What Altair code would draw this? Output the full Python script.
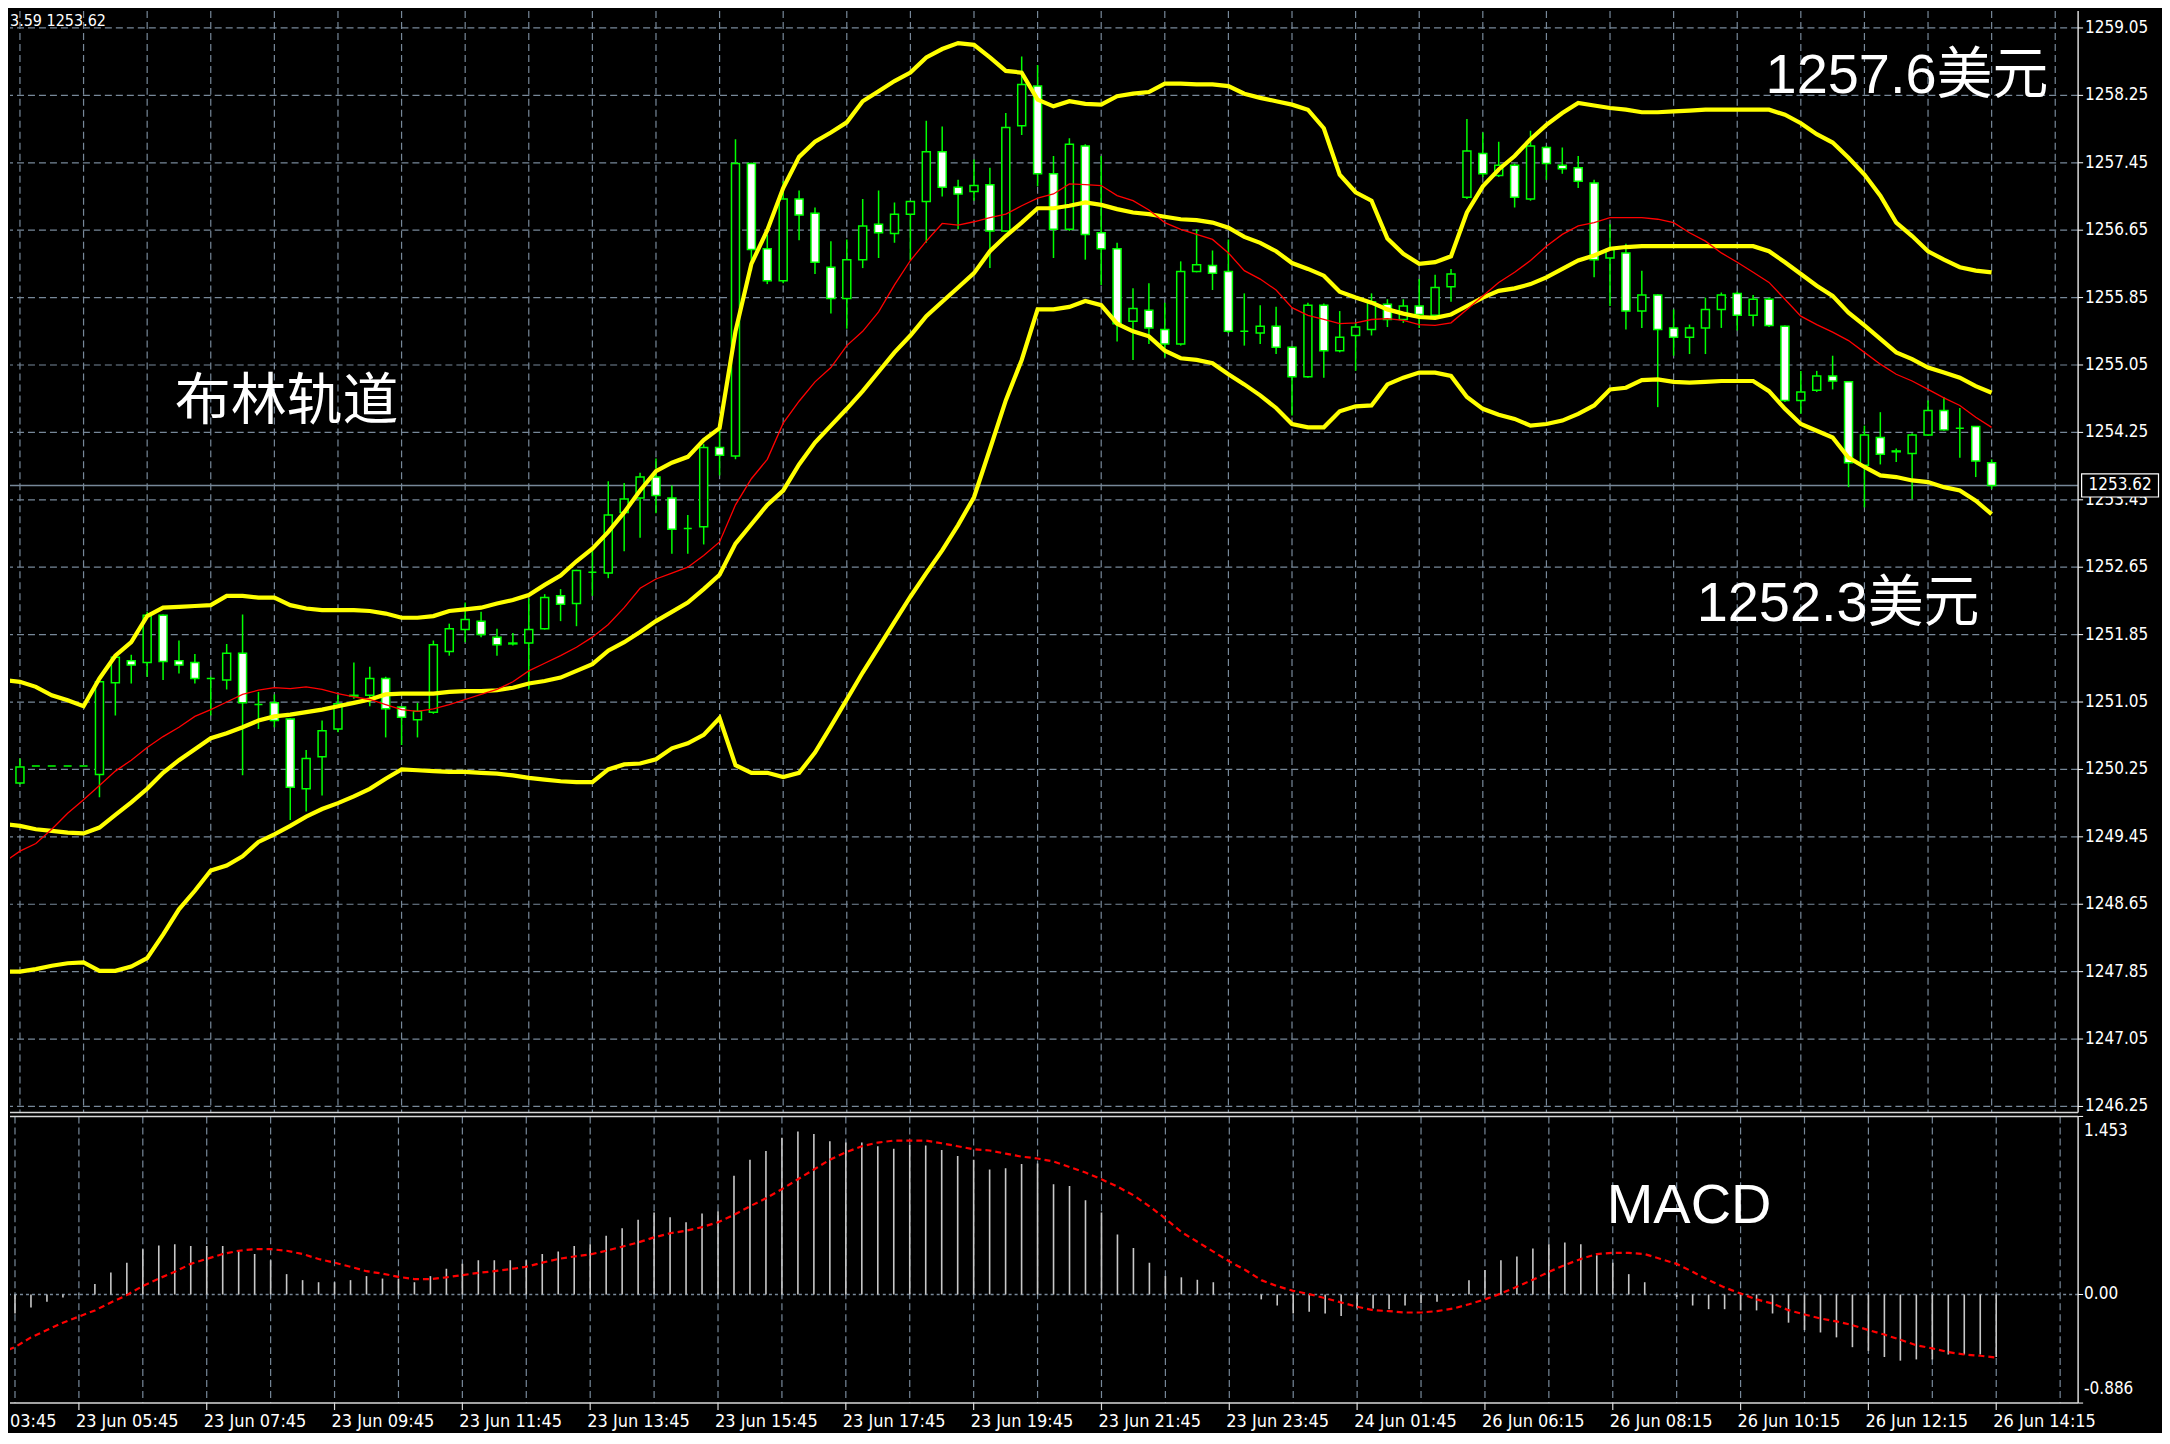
import altair as alt
import pandas as pd

# ---------------- data (bar index -1 .. 124, M15 bars) ----------------
BARS = list(range(-1, 125))

OPEN = [1249.85,
 1250.09, 1250.29, 1250.29, 1250.29, 1250.29,
 1250.19, 1251.28, 1251.54, 1251.52, 1252.08,
 1251.54, 1251.52, 1251.33, 1251.31, 1251.63,
 1251.02, 1251.04, 1250.85, 1250.02, 1250.40,
 1250.73, 1251.12, 1251.13, 1251.33, 1250.99,
 1250.84, 1250.93, 1251.65, 1251.91, 1252.01,
 1251.82, 1251.74, 1251.75, 1251.92, 1252.31,
 1252.22, 1252.59, 1252.58, 1253.30, 1253.47,
 1253.72, 1253.47, 1253.11, 1253.13, 1254.07,
 1253.97, 1257.44, 1256.43, 1256.05, 1257.02,
 1256.85, 1256.21, 1255.84, 1256.30, 1256.72,
 1256.61, 1256.84, 1256.99, 1257.58, 1257.16,
 1257.11, 1257.19, 1256.64, 1257.89, 1258.36,
 1257.32, 1256.66, 1257.65, 1256.62, 1256.43,
 1255.57, 1255.70, 1255.47, 1255.30, 1256.16,
 1256.23, 1256.16, 1255.45, 1255.43, 1255.51,
 1255.26, 1254.91, 1255.76, 1255.22, 1255.40,
 1255.47, 1255.77, 1255.59, 1255.75, 1255.64,
 1255.98, 1257.04, 1257.56, 1257.30, 1257.42,
 1257.02, 1257.63, 1257.42, 1257.39, 1257.21,
 1256.32, 1256.38, 1255.69, 1255.88, 1255.49,
 1255.38, 1255.49, 1255.71, 1255.90, 1255.64,
 1255.83, 1255.51, 1254.63, 1254.75, 1254.92,
 1254.85, 1253.86, 1254.19, 1254.02, 1254.00,
 1254.22, 1254.51, 1254.30, 1254.32, 1253.89]

HIGH = [1250.15,
 1250.38, 1250.29, 1250.29, 1250.29, 1250.29,
 1251.29, 1251.59, 1251.61, 1252.12, 1252.09,
 1251.78, 1251.62, 1251.35, 1251.74, 1252.09,
 1251.17, 1251.14, 1250.86, 1250.48, 1250.83,
 1251.13, 1251.52, 1251.47, 1251.35, 1251.00,
 1251.04, 1251.78, 1251.98, 1252.23, 1252.12,
 1251.92, 1251.87, 1252.28, 1252.33, 1252.39,
 1252.62, 1252.85, 1253.67, 1253.65, 1253.77,
 1253.94, 1253.62, 1253.27, 1254.11, 1254.28,
 1257.73, 1257.45, 1256.60, 1257.23, 1257.12,
 1256.92, 1256.52, 1256.54, 1257.02, 1257.12,
 1256.98, 1257.00, 1257.95, 1257.88, 1257.25,
 1257.49, 1257.39, 1258.04, 1258.71, 1258.61,
 1257.53, 1257.74, 1257.67, 1257.53, 1256.50,
 1255.96, 1256.02, 1255.79, 1256.28, 1256.66,
 1256.41, 1256.54, 1255.90, 1255.76, 1255.74,
 1255.27, 1255.79, 1255.78, 1255.69, 1255.55,
 1255.90, 1255.83, 1255.83, 1256.07, 1256.12,
 1256.19, 1257.97, 1257.81, 1257.70, 1257.44,
 1257.83, 1257.65, 1257.63, 1257.53, 1257.25,
 1256.72, 1256.49, 1256.17, 1255.89, 1255.71,
 1255.53, 1255.85, 1255.91, 1255.92, 1255.88,
 1255.85, 1255.52, 1254.98, 1254.98, 1255.16,
 1254.86, 1254.33, 1254.49, 1254.06, 1254.24,
 1254.63, 1254.67, 1254.54, 1254.32, 1253.93]

LOW = [1249.75,
 1250.07, 1250.29, 1250.29, 1250.29, 1250.29,
 1249.92, 1250.89, 1251.27, 1251.35, 1251.31,
 1251.39, 1251.27, 1250.89, 1251.20, 1250.18,
 1250.73, 1250.75, 1249.65, 1249.75, 1249.94,
 1250.69, 1251.09, 1251.00, 1250.63, 1250.54,
 1250.63, 1250.91, 1251.60, 1251.76, 1251.82,
 1251.60, 1251.72, 1251.20, 1251.91, 1252.01,
 1251.95, 1252.31, 1252.52, 1252.84, 1253.00,
 1253.29, 1252.81, 1252.81, 1252.92, 1253.74,
 1253.93, 1256.17, 1256.01, 1256.02, 1256.53,
 1256.13, 1255.66, 1255.48, 1256.20, 1256.32,
 1256.50, 1256.29, 1256.50, 1257.05, 1256.66,
 1257.00, 1256.20, 1256.63, 1257.78, 1257.17,
 1256.32, 1256.64, 1256.30, 1256.00, 1255.33,
 1255.11, 1255.30, 1255.14, 1255.28, 1256.15,
 1255.94, 1255.43, 1255.28, 1255.30, 1255.18,
 1254.45, 1254.90, 1254.90, 1255.20, 1254.98,
 1255.40, 1255.50, 1255.55, 1255.49, 1255.62,
 1255.80, 1257.02, 1257.28, 1257.28, 1256.92,
 1257.00, 1257.25, 1257.32, 1257.15, 1256.09,
 1255.75, 1255.47, 1255.49, 1254.55, 1255.16,
 1255.18, 1255.18, 1255.49, 1255.46, 1255.51,
 1255.50, 1254.61, 1254.47, 1254.73, 1254.76,
 1253.60, 1253.36, 1253.87, 1253.90, 1253.46,
 1254.21, 1254.27, 1253.95, 1253.72, 1253.58]

CLOSE = [1250.10,
 1250.28, 1250.29, 1250.29, 1250.29, 1250.29,
 1251.29, 1251.58, 1251.49, 1252.08, 1251.53,
 1251.49, 1251.33, 1251.33, 1251.63, 1251.04,
 1251.02, 1250.83, 1250.04, 1250.38, 1250.71,
 1251.03, 1251.13, 1251.33, 1250.97, 1250.87,
 1250.94, 1251.73, 1251.92, 1252.03, 1251.85,
 1251.73, 1251.75, 1251.91, 1252.29, 1252.21,
 1252.61, 1252.59, 1253.27, 1253.46, 1253.72,
 1253.50, 1253.10, 1253.11, 1254.07, 1253.98,
 1257.44, 1256.42, 1256.05, 1257.02, 1256.83,
 1256.27, 1255.84, 1256.30, 1256.70, 1256.62,
 1256.84, 1256.99, 1257.58, 1257.16, 1257.08,
 1257.18, 1256.64, 1257.87, 1258.38, 1257.32,
 1256.66, 1257.67, 1256.60, 1256.43, 1255.54,
 1255.72, 1255.49, 1255.30, 1256.16, 1256.24,
 1256.14, 1255.45, 1255.45, 1255.51, 1255.26,
 1254.91, 1255.76, 1255.22, 1255.38, 1255.50,
 1255.80, 1255.59, 1255.75, 1255.65, 1255.97,
 1256.13, 1257.59, 1257.32, 1257.42, 1257.04,
 1257.65, 1257.44, 1257.38, 1257.23, 1256.30,
 1256.42, 1255.69, 1255.88, 1255.47, 1255.38,
 1255.49, 1255.71, 1255.88, 1255.64, 1255.83,
 1255.52, 1254.63, 1254.73, 1254.92, 1254.86,
 1253.89, 1254.22, 1253.99, 1254.03, 1254.22,
 1254.51, 1254.28, 1254.30, 1253.91, 1253.62]

BB_UPPER = [1251.31,
 1251.29, 1251.23, 1251.13, 1251.07, 1251.00,
 1251.33, 1251.60, 1251.76, 1252.07, 1252.17,
 1252.18, 1252.19, 1252.20, 1252.31, 1252.31,
 1252.29, 1252.29, 1252.20, 1252.16, 1252.14,
 1252.14, 1252.14, 1252.13, 1252.10, 1252.05,
 1252.05, 1252.07, 1252.13, 1252.15, 1252.17,
 1252.22, 1252.26, 1252.32, 1252.44, 1252.55,
 1252.72, 1252.87, 1253.07, 1253.30, 1253.56,
 1253.79, 1253.89, 1253.96, 1254.16, 1254.30,
 1255.45, 1256.25, 1256.65, 1257.15, 1257.52,
 1257.70, 1257.81, 1257.93, 1258.18, 1258.30,
 1258.42, 1258.52, 1258.70, 1258.80, 1258.87,
 1258.85, 1258.70, 1258.54, 1258.52, 1258.20,
 1258.12, 1258.18, 1258.15, 1258.14, 1258.24,
 1258.27, 1258.29, 1258.39, 1258.39, 1258.38,
 1258.38, 1258.36, 1258.27, 1258.22, 1258.18,
 1258.14, 1258.08, 1257.86, 1257.31, 1257.10,
 1257.00, 1256.55, 1256.37, 1256.25, 1256.27,
 1256.34, 1256.86, 1257.17, 1257.37, 1257.53,
 1257.73, 1257.90, 1258.04, 1258.16, 1258.13,
 1258.10, 1258.08, 1258.05, 1258.05, 1258.06,
 1258.07, 1258.08, 1258.08, 1258.08, 1258.08,
 1258.08, 1258.02, 1257.92, 1257.79, 1257.69,
 1257.51, 1257.31, 1257.06, 1256.74, 1256.58,
 1256.40, 1256.30, 1256.21, 1256.17, 1256.15]

BB_MIDDLE = [1249.60,
 1249.58, 1249.54, 1249.52, 1249.50, 1249.49,
 1249.56, 1249.71, 1249.86, 1250.02, 1250.21,
 1250.36, 1250.49, 1250.62, 1250.68, 1250.75,
 1250.83, 1250.88, 1250.90, 1250.93, 1250.96,
 1251.00, 1251.04, 1251.08, 1251.14, 1251.15,
 1251.15, 1251.15, 1251.17, 1251.18, 1251.18,
 1251.19, 1251.22, 1251.27, 1251.30, 1251.34,
 1251.42, 1251.50, 1251.66, 1251.76, 1251.88,
 1252.01, 1252.12, 1252.23, 1252.39, 1252.56,
 1252.93, 1253.16, 1253.39, 1253.56, 1253.87,
 1254.13, 1254.33, 1254.53, 1254.74, 1254.97,
 1255.20, 1255.40, 1255.63, 1255.80, 1255.97,
 1256.14, 1256.40, 1256.58, 1256.74, 1256.91,
 1256.91, 1256.94, 1256.98, 1256.95, 1256.90,
 1256.86, 1256.84, 1256.81, 1256.78, 1256.77,
 1256.74, 1256.68, 1256.57, 1256.50, 1256.40,
 1256.26, 1256.19, 1256.11, 1255.92, 1255.85,
 1255.79, 1255.71, 1255.66, 1255.62, 1255.61,
 1255.65, 1255.75, 1255.85, 1255.93, 1255.96,
 1256.01, 1256.09, 1256.19, 1256.29, 1256.35,
 1256.43, 1256.45, 1256.46, 1256.46, 1256.46,
 1256.46, 1256.46, 1256.46, 1256.46, 1256.46,
 1256.40, 1256.27, 1256.13, 1255.99, 1255.87,
 1255.67, 1255.52, 1255.36, 1255.20, 1255.12,
 1255.02, 1254.96, 1254.90, 1254.80, 1254.72]

BB_LOWER = [1247.85,
 1247.85, 1247.88, 1247.92, 1247.95, 1247.96,
 1247.86, 1247.86, 1247.91, 1248.01, 1248.29,
 1248.59, 1248.81, 1249.05, 1249.11, 1249.22,
 1249.39, 1249.48, 1249.58, 1249.69, 1249.78,
 1249.85, 1249.93, 1250.02, 1250.14, 1250.25,
 1250.24, 1250.23, 1250.22, 1250.22, 1250.21,
 1250.20, 1250.18, 1250.15, 1250.13, 1250.11,
 1250.10, 1250.10, 1250.25, 1250.31, 1250.32,
 1250.37, 1250.50, 1250.56, 1250.66, 1250.86,
 1250.30, 1250.21, 1250.21, 1250.16, 1250.21,
 1250.45, 1250.76, 1251.08, 1251.40, 1251.70,
 1252.00, 1252.30, 1252.58, 1252.85, 1253.15,
 1253.48, 1254.05, 1254.63, 1255.11, 1255.71,
 1255.71, 1255.74, 1255.81, 1255.76, 1255.54,
 1255.45, 1255.39, 1255.22, 1255.13, 1255.11,
 1255.07, 1254.94, 1254.82, 1254.69, 1254.54,
 1254.35, 1254.31, 1254.31, 1254.50, 1254.56,
 1254.57, 1254.82, 1254.90, 1254.96, 1254.96,
 1254.92, 1254.67, 1254.53, 1254.46, 1254.41,
 1254.33, 1254.35, 1254.39, 1254.47, 1254.57,
 1254.76, 1254.78, 1254.87, 1254.88, 1254.85,
 1254.84, 1254.85, 1254.86, 1254.86, 1254.86,
 1254.74, 1254.53, 1254.35, 1254.27, 1254.19,
 1253.95, 1253.84, 1253.74, 1253.72, 1253.68,
 1253.66, 1253.60, 1253.56, 1253.44, 1253.28]

MA_RED = [1249.15,
 1249.28, 1249.37, 1249.54, 1249.73, 1249.89,
 1250.06, 1250.23, 1250.36, 1250.51, 1250.64,
 1250.75, 1250.88, 1250.96, 1251.05, 1251.14,
 1251.19, 1251.22, 1251.21, 1251.23, 1251.20,
 1251.15, 1251.11, 1251.08, 1251.02, 1250.96,
 1250.94, 1250.97, 1251.02, 1251.08, 1251.14,
 1251.20, 1251.29, 1251.42, 1251.51, 1251.60,
 1251.70, 1251.82, 1251.97, 1252.17, 1252.40,
 1252.51, 1252.58, 1252.65, 1252.79, 1252.95,
 1253.39, 1253.70, 1253.93, 1254.36, 1254.62,
 1254.85, 1255.02, 1255.28, 1255.45, 1255.68,
 1256.00, 1256.29, 1256.52, 1256.73, 1256.71,
 1256.75, 1256.80, 1256.84, 1256.94, 1257.03,
 1257.08, 1257.20, 1257.19, 1257.18, 1257.06,
 1257.00, 1256.89, 1256.74, 1256.66, 1256.60,
 1256.54, 1256.38, 1256.17, 1256.07, 1255.94,
 1255.73, 1255.64, 1255.59, 1255.54, 1255.55,
 1255.59, 1255.60, 1255.58, 1255.53, 1255.52,
 1255.55, 1255.71, 1255.87, 1256.03, 1256.15,
 1256.29, 1256.46, 1256.60, 1256.70, 1256.74,
 1256.80, 1256.80, 1256.80, 1256.78, 1256.74,
 1256.62, 1256.52, 1256.38, 1256.27, 1256.15,
 1256.03, 1255.83, 1255.63, 1255.53, 1255.44,
 1255.34, 1255.20, 1255.06, 1254.94, 1254.86,
 1254.76, 1254.66, 1254.57, 1254.43, 1254.31]

MACD_HIST = [-0.18,
 -0.155, -0.106, -0.06, -0.025, 0.005,
 0.085, 0.18, 0.26, 0.37, 0.40,
 0.41, 0.395, 0.395, 0.395, 0.355,
 0.33, 0.28, 0.166, 0.117, 0.10,
 0.10, 0.117, 0.15, 0.13, 0.13,
 0.10, 0.15, 0.21, 0.25, 0.28,
 0.28, 0.28, 0.28, 0.33, 0.35,
 0.395, 0.41, 0.48, 0.54, 0.61,
 0.67, 0.63, 0.59, 0.66, 0.68,
 0.97, 1.10, 1.17, 1.28, 1.33,
 1.31, 1.25, 1.24, 1.24, 1.21,
 1.19, 1.22, 1.215, 1.18, 1.13,
 1.10, 1.02, 1.03, 1.065, 1.07,
 0.90, 0.885, 0.77, 0.67, 0.49,
 0.38, 0.26, 0.15, 0.14, 0.12,
 0.10, 0.01, 0.005, -0.04, -0.09,
 -0.155, -0.14, -0.155, -0.175, -0.115,
 -0.115, -0.12, -0.09, -0.07, -0.06,
 -0.01, 0.117, 0.20, 0.28, 0.31,
 0.375, 0.41, 0.425, 0.41, 0.32,
 0.26, 0.166, 0.10, -0.005, -0.02,
 -0.09, -0.12, -0.12, -0.13, -0.13,
 -0.155, -0.23, -0.29, -0.31, -0.35,
 -0.43, -0.46, -0.51, -0.54, -0.53,
 -0.53, -0.49, -0.49, -0.49, -0.51]

MACD_SIGNAL = [-0.48,
 -0.43, -0.35, -0.29, -0.23, -0.18,
 -0.13, -0.065, -0.005, 0.07, 0.13,
 0.185, 0.25, 0.29, 0.33, 0.357,
 0.37, 0.37, 0.357, 0.33, 0.29,
 0.26, 0.226, 0.19, 0.17, 0.144,
 0.125, 0.125, 0.14, 0.158, 0.177,
 0.19, 0.207, 0.226, 0.26, 0.29,
 0.31, 0.327, 0.357, 0.39, 0.425,
 0.466, 0.50, 0.52, 0.55, 0.59,
 0.65, 0.72, 0.785, 0.86, 0.94,
 1.02, 1.10, 1.16, 1.21, 1.24,
 1.256, 1.256, 1.256, 1.234, 1.21,
 1.185, 1.175, 1.15, 1.125, 1.11,
 1.085, 1.04, 0.995, 0.94, 0.88,
 0.81, 0.72, 0.62, 0.51, 0.43,
 0.35, 0.27, 0.20, 0.117, 0.068,
 0.03, 0.003, -0.03, -0.065, -0.10,
 -0.128, -0.136, -0.147, -0.147, -0.136,
 -0.115, -0.08, -0.04, 0.008, 0.063,
 0.12, 0.185, 0.24, 0.29, 0.33,
 0.34, 0.34, 0.33, 0.29, 0.25,
 0.185, 0.117, 0.057, 0.008, -0.04,
 -0.074, -0.128, -0.163, -0.196, -0.22,
 -0.25, -0.29, -0.327, -0.37, -0.414,
 -0.44, -0.47, -0.49, -0.50, -0.515]

PRICE_TICKS = [1259.05, 1258.25, 1257.45, 1256.65, 1255.85, 1255.05, 1254.25,
               1253.45, 1252.65, 1251.85, 1251.05, 1250.25, 1249.45, 1248.65,
               1247.85, 1247.05, 1246.25]
GRID_BARS = list(range(0, 129, 4))
TIME_LABEL_BARS = [4, 12, 20, 28, 36, 44, 52, 60, 68, 76, 84, 92, 100, 108, 116, 124]
TIME_LABELS = ["23 Jun 05:45", "23 Jun 07:45", "23 Jun 09:45", "23 Jun 11:45",
               "23 Jun 13:45", "23 Jun 15:45", "23 Jun 17:45", "23 Jun 19:45",
               "23 Jun 21:45", "23 Jun 23:45", "24 Jun 01:45", "26 Jun 06:15",
               "26 Jun 08:15", "26 Jun 10:15", "26 Jun 12:15", "26 Jun 14:15"]
EDGE_TIME_LABEL = "03:45"
MACD_LABEL_VALUES = [1.453, 0.0, -0.886]
MACD_LABEL_TEXTS = ["1.453", "0.00", "-0.886"]
CURRENT_PRICE = 1253.62
HEADER_TEXT = "3.59 1253.62"

for arr in (OPEN, HIGH, LOW, CLOSE, BB_UPPER, BB_MIDDLE, BB_LOWER, MA_RED, MACD_HIST, MACD_SIGNAL):
    assert len(arr) == len(BARS), len(arr)

# ---------------- style ----------------
W, H_MAIN, H_MACD = 2071, 1103, 287
X_DOMAIN = [-0.3125, 129.125]
Y_DOMAIN = [1246.1789, 1259.2515]
M_DOMAIN = [-0.886, 1.453]
LIME = "#00ff00"
YELLOW = "#ffff00"
RED = "#ff0000"
GRID = "#778899"
BORDER = "#d8d8d8"
TXT = "#ffffff"
AXIS_FONT = "DejaVu Sans Condensed, Liberation Sans Narrow, DejaVu Sans, sans-serif"
ANN_FONT = "Liberation Sans, Noto Sans CJK SC, sans-serif"
CJK_FONT = "Noto Sans CJK SC, sans-serif"

df = pd.DataFrame({"i": BARS, "open": OPEN, "high": HIGH, "low": LOW, "close": CLOSE,
                   "upper": BB_UPPER, "middle": BB_MIDDLE, "lower": BB_LOWER, "ma": MA_RED,
                   "hist": MACD_HIST, "signal": MACD_SIGNAL})
df["direction"] = ["bull" if c >= o else "bear" for o, c in zip(OPEN, CLOSE)]
df["zero"] = 0.0

grid_df = pd.DataFrame({"bar": GRID_BARS})
tick_df = pd.DataFrame({"p": PRICE_TICKS, "t": [f"{p:.2f}" for p in PRICE_TICKS]})
one_df = pd.DataFrame({"z": [0]})

xs = alt.Scale(domain=X_DOMAIN, nice=False, zero=False)
ys = alt.Scale(domain=Y_DOMAIN, nice=False, zero=False)
ms = alt.Scale(domain=M_DOMAIN, nice=False, zero=False)

base = alt.Chart(df)


def text_layer(text, x, y, size, font, align="left", baseline="alphabetic"):
    return alt.Chart(pd.DataFrame({"t": [text]})).mark_text(
        align=align, baseline=baseline, font=font, fontSize=size, color=TXT
    ).encode(text="t:N", x=alt.value(x), y=alt.value(y))


def border(x, x2, y, y2):
    return alt.Chart(one_df).mark_rule(color=BORDER, strokeWidth=1.5).encode(
        x=alt.value(x), x2=alt.value(x2), y=alt.value(y), y2=alt.value(y2))


# ---------------- main price panel ----------------
vgrid_main = alt.Chart(grid_df).mark_rule(color=GRID, strokeDash=[7, 4], strokeWidth=1.2).encode(
    x=alt.X("bar:Q", scale=xs, axis=None))
hgrid_main = alt.Chart(tick_df).mark_rule(color=GRID, strokeDash=[7, 4], strokeWidth=1.2).encode(
    y=alt.Y("p:Q", scale=ys, axis=None))
price_ticks = alt.Chart(tick_df).mark_rule(color=TXT, strokeWidth=1).encode(
    x=alt.value(W), x2=alt.value(W + 5), y=alt.Y("p:Q", scale=ys, axis=None))
price_labels = alt.Chart(tick_df).mark_text(
    align="left", baseline="middle", font=AXIS_FONT, fontSize=17, color=TXT
).encode(x=alt.value(W + 7), y=alt.Y("p:Q", scale=ys, axis=None), text="t:N")

price_line = alt.Chart(pd.DataFrame({"p": [CURRENT_PRICE]})).mark_rule(
    color=GRID, strokeWidth=1.6
).encode(x=alt.value(0), x2=alt.value(W), y=alt.Y("p:Q", scale=ys, axis=None))

wicks = base.mark_rule(color=LIME, strokeWidth=1.5, clip=True).encode(
    x=alt.X("i:Q", scale=xs, axis=None),
    y=alt.Y("low:Q", scale=ys, axis=None),
    y2="high:Q",
)

bodies = base.mark_bar(size=8, stroke=LIME, strokeWidth=1.5, clip=True).encode(
    x=alt.X("i:Q", scale=xs, axis=None),
    y=alt.Y("open:Q", scale=ys, axis=None),
    y2="close:Q",
    fill=alt.Fill("direction:N", scale=alt.Scale(domain=["bull", "bear"], range=["#000000", "#ffffff"]),
                  legend=None),
)

bands = base.transform_fold(["upper", "middle", "lower"], as_=["band", "level"]).mark_line(
    color=YELLOW, strokeWidth=4.2, clip=True
).encode(
    x=alt.X("i:Q", scale=xs, axis=None),
    y=alt.Y("level:Q", scale=ys, axis=None),
    detail="band:N",
    order="i:Q",
)

ma = base.mark_line(color=RED, strokeWidth=1.3, clip=True).encode(
    x=alt.X("i:Q", scale=xs, axis=None),
    y=alt.Y("ma:Q", scale=ys, axis=None),
    order="i:Q",
)

price_df = pd.DataFrame({"p": [CURRENT_PRICE], "t": [f"{CURRENT_PRICE:.2f}"]})
price_box = alt.Chart(price_df).mark_point(
    shape="M-1,-0.3L1,-0.3L1,0.3L-1,0.3Z", size=5929, filled=True, fill="#000000",
    stroke=TXT, strokeWidth=1.2, opacity=1
).encode(x=alt.value(W + 42), y=alt.Y("p:Q", scale=ys, axis=None))
price_text = alt.Chart(price_df).mark_text(
    align="center", baseline="middle", font=AXIS_FONT, fontSize=17, color=TXT
).encode(x=alt.value(W + 42), y=alt.Y("p:Q", scale=ys, axis=None), text="t:N")

main = alt.layer(
    vgrid_main, hgrid_main, price_line, wicks, bodies, bands, ma,
    border(W, W, 0, H_MAIN), border(0, W, H_MAIN, H_MAIN),
    price_ticks, price_labels, price_box, price_text,
    text_layer(HEADER_TEXT, 0, 2, 16, AXIS_FONT, baseline="top"),
    text_layer("布林轨道", 165, 409, 56, CJK_FONT),
    text_layer("1257.6美元", 1758, 82, 56, ANN_FONT),
    text_layer("1252.3美元", 1689, 611, 56, ANN_FONT),
).properties(width=W, height=H_MAIN)

# ---------------- MACD panel ----------------
vgrid_macd = alt.Chart(grid_df).mark_rule(color=GRID, strokeDash=[7, 4], strokeWidth=1.2).encode(
    x=alt.X("bar:Q", scale=xs, axis=None))
zero_line = alt.Chart(one_df).mark_rule(color=GRID, strokeDash=[3, 3], strokeWidth=1.5).encode(
    y=alt.Y("z:Q", scale=ms, axis=None))

hist = base.mark_rule(color="#c8c8c8", strokeWidth=1.6, clip=True).encode(
    x=alt.X("i:Q", scale=xs, axis=None),
    y=alt.Y("zero:Q", scale=ms, axis=None),
    y2="hist:Q",
)
signal = base.mark_line(color=RED, strokeWidth=2.2, strokeDash=[6, 4], clip=True).encode(
    x=alt.X("i:Q", scale=xs, axis=None),
    y=alt.Y("signal:Q", scale=ms, axis=None),
    order="i:Q",
)

time_df = pd.DataFrame({"bar": TIME_LABEL_BARS, "label": TIME_LABELS})
time_text = alt.Chart(time_df).mark_text(
    align="left", baseline="middle", dx=-3, font=AXIS_FONT, fontSize=18, color=TXT
).encode(x=alt.X("bar:Q", scale=xs, axis=None), y=alt.value(H_MACD + 19), text="label:N")
time_ticks = alt.Chart(time_df).mark_rule(color=BORDER, strokeWidth=1.2).encode(
    x=alt.X("bar:Q", scale=xs, axis=None), y=alt.value(H_MACD), y2=alt.value(H_MACD + 7)
)
edge_label = alt.Chart(pd.DataFrame({"t": [EDGE_TIME_LABEL]})).mark_text(
    align="left", baseline="middle", font=AXIS_FONT, fontSize=18, color=TXT
).encode(x=alt.value(0), y=alt.value(H_MACD + 19), text="t:N")

macd_lab_df = pd.DataFrame({"v": MACD_LABEL_VALUES, "t": MACD_LABEL_TEXTS})
macd_ticks = alt.Chart(macd_lab_df).mark_rule(color=TXT, strokeWidth=1).encode(
    x=alt.value(W), x2=alt.value(W + 5), y=alt.Y("v:Q", scale=ms, axis=None))
macd_label_layers = []
for v, t, bl, dy in zip(MACD_LABEL_VALUES, MACD_LABEL_TEXTS, ["top", "middle", "bottom"], [7, 0, -5]):
    macd_label_layers.append(
        alt.Chart(pd.DataFrame({"v": [v], "t": [t]})).mark_text(
            align="left", baseline=bl, dy=dy, font=AXIS_FONT, fontSize=17, color=TXT
        ).encode(x=alt.value(W + 6), y=alt.Y("v:Q", scale=ms, axis=None), text="t:N")
    )

macd = alt.layer(
    vgrid_macd, zero_line, hist, signal,
    border(0, W, 0, 0), border(0, W, H_MACD, H_MACD), border(W, W, 0, H_MACD),
    macd_ticks, time_ticks, time_text, edge_label, *macd_label_layers,
    text_layer("MACD", 1599, 107, 56, ANN_FONT),
).properties(width=W, height=H_MACD)

chart = alt.vconcat(main, macd, spacing=4, bounds="flush").properties(
    background="#000000", padding=0
).configure_view(stroke="transparent")

chart.save("out.html", embed_options={"renderer": "svg", "actions": False})
